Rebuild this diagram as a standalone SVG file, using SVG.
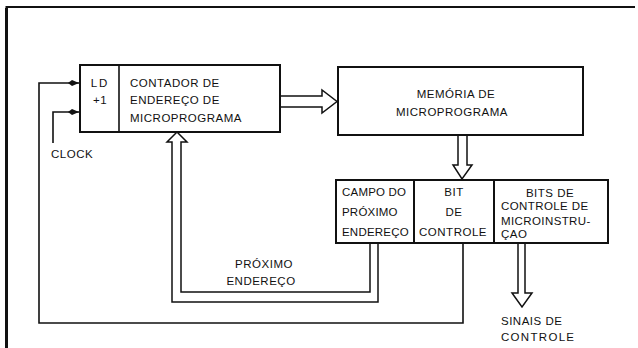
<svg xmlns="http://www.w3.org/2000/svg" width="638" height="348" viewBox="0 0 638 348">
<defs>
<style>
text{font-family:"Liberation Sans",Arial,sans-serif;font-size:11.5px;fill:#111;letter-spacing:0.5px}
.box{fill:#fff;stroke:#111;stroke-width:2}
.ln{fill:none;stroke:#111;stroke-width:1.6}
.hollow{fill:#fff;stroke:#111;stroke-width:1.5;stroke-linejoin:miter}
.c{text-anchor:middle}
</style>
<marker id="ah" markerWidth="12" markerHeight="8" refX="11" refY="4" orient="auto" markerUnits="userSpaceOnUse">
<path d="M0,4 L4,1 L11,4 L4,7 Z" fill="#111"/>
</marker>
</defs>
<rect x="0" y="0" width="638" height="348" fill="#fff"/>
<g id="frame">
<path d="M6.5,348 L6.5,7 L635,7" fill="none" stroke="#111" stroke-width="2"/>
<line x1="6.5" y1="8" x2="6.5" y2="348" stroke="#111" stroke-width="3"/>
</g>
<g id="connectors">
<path class="ln" d="M463,243 L463,323 L39,323 L39,83 L79,83" marker-end="url(#ah)"/>
<path class="ln" d="M53,143 L53,112 L79,112" marker-end="url(#ah)"/>
<path class="hollow" d="M280,96 L322,96 L322,90 L337,101.5 L322,113 L322,107 L280,107"/>
<path class="hollow" d="M458,135 L458,165 L453,165 L462,179 L472,165 L467,165 L467,135"/>
<path class="hollow" d="M518,244 L518,293 L512,293 L522,307 L532,293 L525,293 L525,244"/>
<path class="hollow" d="M378,244 L378,302 L172,302 L172,142 L167,142 L177,132 L187,142 L181,142 L181,292 L370,292 L370,244"/>
</g>
<g id="contador">
<rect class="box" x="80" y="65" width="200" height="67"/>
<line x1="119" y1="65" x2="119" y2="132" stroke="#111" stroke-width="1.6"/>
<text x="100" y="87" class="c" style="letter-spacing:2px">LD</text>
<text x="100" y="104" class="c">+1</text>
<text x="130" y="87">CONTADOR DE</text>
<text x="130" y="104">ENDEREÇO DE</text>
<text x="130" y="122">MICROPROGRAMA</text>
</g>
<g id="clock">
<text x="51" y="158">CLOCK</text>
</g>
<g id="memoria">
<rect class="box" x="338" y="67" width="245" height="68"/>
<text x="456" y="98" class="c">MEMÓRIA DE</text>
<text x="452" y="116" class="c">MICROPROGRAMA</text>
</g>
<g id="campo">
<rect class="box" x="336" y="180" width="78" height="63"/>
<text x="342" y="196" style="letter-spacing:0.2px">CAMPO DO</text>
<text x="342" y="216" style="letter-spacing:0.2px">PRÓXIMO</text>
<text x="342" y="236" style="letter-spacing:0.2px">ENDEREÇO</text>
</g>
<g id="bit">
<rect class="box" x="414" y="180" width="80" height="63"/>
<text x="454" y="196" class="c">BIT</text>
<text x="454" y="216" class="c">DE</text>
<text x="453" y="236" class="c">CONTROLE</text>
</g>
<g id="bits">
<rect class="box" x="494" y="180" width="114" height="63"/>
<text x="550" y="197" class="c">BITS DE</text>
<text x="501" y="210" style="letter-spacing:0.4px">CONTROLE DE</text>
<text x="501" y="225" style="letter-spacing:0.4px">MICROINSTRU-</text>
<text x="501" y="238">ÇAO</text>
</g>
<g id="labels">
<text x="264" y="268" class="c">PRÓXIMO</text>
<text x="261" y="285" class="c">ENDEREÇO</text>
<text x="501" y="325">SINAIS DE</text>
<text x="501" y="341" style="letter-spacing:1.3px">CONTROLE</text>
</g>
</svg>
